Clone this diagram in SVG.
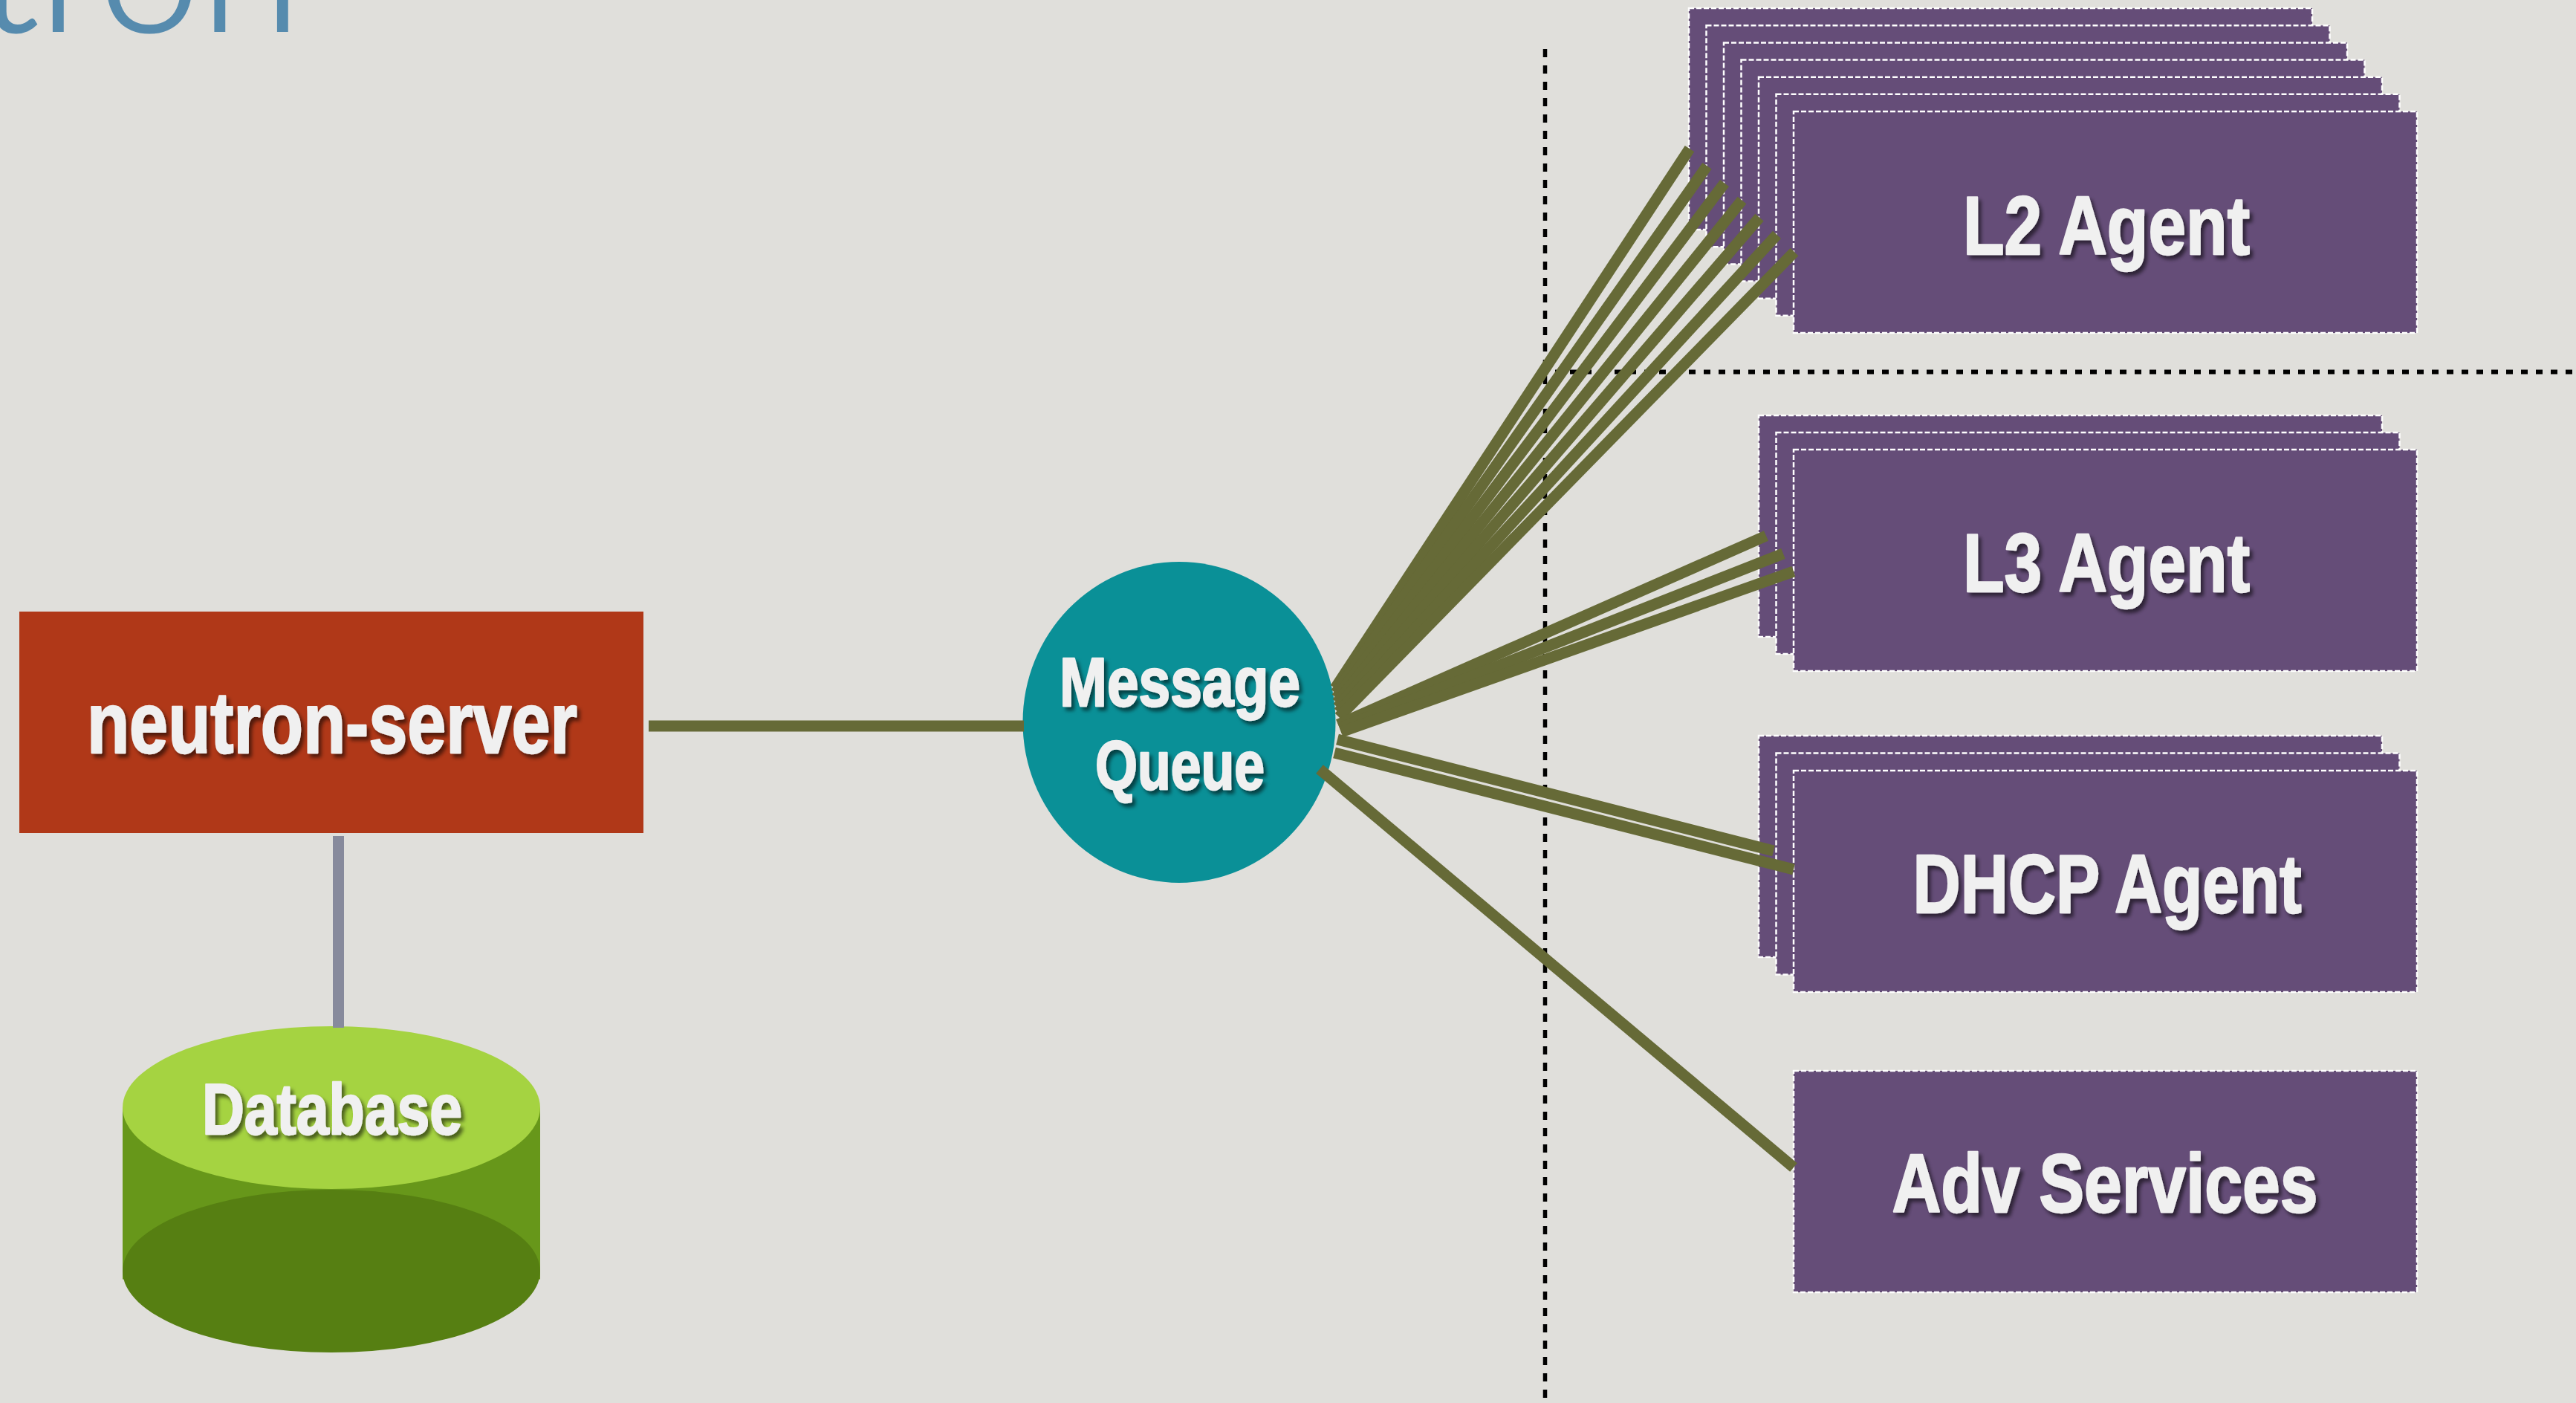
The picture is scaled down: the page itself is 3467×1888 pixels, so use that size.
<svg xmlns="http://www.w3.org/2000/svg" width="3467" height="1888" viewBox="0 0 3467 1888">
  <defs>
    <filter id="ts" x="-10%" y="-30%" width="130%" height="170%">
      <feDropShadow dx="4" dy="5" stdDeviation="2.5" flood-color="#000" flood-opacity="0.55"/>
    </filter>
  </defs>
  <style>
    .agent rect { fill: #654d78; stroke: #ffffff; stroke-width: 2.5; stroke-dasharray: 7 3; }
    .lbl { font-family: "Liberation Sans Narrow", "Liberation Sans", Arial, sans-serif; font-weight: bold; fill: #f0f0f0; stroke: #f0f0f0; stroke-width: 2.5; stroke-linejoin: round; text-anchor: middle; filter: url(#ts); }
    .conn line { stroke: #666a37; stroke-width: 15; fill: none; stroke-linecap: butt; }
    .sep { stroke: #000; fill: none; }
  </style>

  <rect x="0" y="0" width="3467" height="1888" fill="#e0dfdb"/>

  <!-- title (cut off at top edge, as in the reference) -->
  <text x="405" y="42" font-family="Lato, 'Open Sans', sans-serif" font-weight="300" font-size="246" fill="#568bae" stroke="#568bae" stroke-width="3" text-anchor="end">tron</text>

  <!-- separators -->
  <g id="separators">
    <line class="sep" x1="2079.5" y1="66" x2="2079.5" y2="1888" stroke-width="5.5" stroke-dasharray="11 11"/>
    <line class="sep" x1="2093" y1="500.5" x2="3467" y2="500.5" stroke-width="6" stroke-dasharray="9 11"/>
  </g>

  <!-- neutron-server -->
  <g id="neutron-server">
    <rect x="26" y="823" width="840" height="298" fill="#b03818"/>
    <text class="lbl" x="447" y="1013" font-size="116" textLength="660" lengthAdjust="spacingAndGlyphs">neutron-server</text>
  </g>

  <!-- database -->
  <g id="database">
    <rect x="165" y="1490.5" width="562" height="231" fill="#67971a"/>
    <ellipse cx="446" cy="1710.5" rx="281" ry="109.5" fill="#567f12"/>
    <ellipse cx="446" cy="1490.5" rx="281" ry="109.5" fill="#a5d341"/>
    <text class="lbl" x="447" y="1526" font-size="97" textLength="350" lengthAdjust="spacingAndGlyphs">Database</text>
  </g>

  <!-- message queue -->
  <g id="message-queue">
    <ellipse cx="1587" cy="972" rx="210.5" ry="216" fill="#0a9097"/>
    <text class="lbl" x="1588" y="950" font-size="92" textLength="324" lengthAdjust="spacingAndGlyphs">Message</text>
    <text class="lbl" x="1588" y="1062" font-size="92" textLength="228" lengthAdjust="spacingAndGlyphs">Queue</text>
  </g>

  <!-- L2 agent stack -->
  <g id="l2-agent" class="agent">
    <rect x="2273" y="11.1" width="839" height="298"/>
    <rect x="2296.5" y="34.25" width="839" height="298"/>
    <rect x="2320" y="57.4" width="839" height="298"/>
    <rect x="2343.5" y="80.55" width="839" height="298"/>
    <rect x="2367" y="103.7" width="839" height="298"/>
    <rect x="2390.5" y="126.85" width="839" height="298"/>
    <rect x="2414" y="150" width="839" height="298"/>
    <text class="lbl" x="2835" y="342" font-size="112" textLength="386" lengthAdjust="spacingAndGlyphs">L2 Agent</text>
  </g>

  <!-- L3 agent stack -->
  <g id="l3-agent" class="agent">
    <rect x="2367" y="559" width="839" height="298"/>
    <rect x="2390.5" y="582" width="839" height="298"/>
    <rect x="2414" y="605" width="839" height="298"/>
    <text class="lbl" x="2835" y="796" font-size="112" textLength="386" lengthAdjust="spacingAndGlyphs">L3 Agent</text>
  </g>

  <!-- DHCP agent stack -->
  <g id="dhcp-agent" class="agent">
    <rect x="2367" y="990" width="839" height="298"/>
    <rect x="2390.5" y="1013.5" width="839" height="298"/>
    <rect x="2414" y="1037" width="839" height="298"/>
    <text class="lbl" x="2836" y="1228" font-size="112" textLength="523" lengthAdjust="spacingAndGlyphs">DHCP Agent</text>
  </g>

  <!-- Adv services -->
  <g id="adv-services" class="agent">
    <rect x="2414" y="1441" width="839" height="298"/>
    <text class="lbl" x="2833" y="1631" font-size="112" textLength="573" lengthAdjust="spacingAndGlyphs">Adv Services</text>
  </g>

  <!-- connectors -->
  <g id="connectors" class="conn">
    <line x1="873" y1="977" x2="1378" y2="977"/>
    <line x1="455.5" y1="1125" x2="455.5" y2="1383" style="stroke:#878a9c"/>
    <!-- to L2 -->
    <line x1="1797" y1="926" x2="2274" y2="200.1"/>
    <line x1="1797.8" y1="932.5" x2="2297.5" y2="223.25"/>
    <line x1="1798.7" y1="939" x2="2321" y2="246.4"/>
    <line x1="1799.5" y1="945.5" x2="2344.5" y2="269.55"/>
    <line x1="1800.3" y1="952" x2="2368" y2="292.7"/>
    <line x1="1801.2" y1="958.5" x2="2391.5" y2="315.85"/>
    <line x1="1802" y1="965" x2="2415" y2="339"/>
    <!-- to L3 -->
    <line x1="1801" y1="975" x2="2377" y2="721"/>
    <line x1="1803" y1="980" x2="2400" y2="745"/>
    <line x1="1805" y1="985" x2="2414" y2="769"/>
    <!-- to DHCP -->
    <line x1="1800" y1="995" x2="2387" y2="1145"/>
    <line x1="1796" y1="1013" x2="2414" y2="1170"/>
    <!-- to Adv services -->
    <line x1="1776" y1="1035" x2="2414" y2="1571"/>
  </g>
</svg>
